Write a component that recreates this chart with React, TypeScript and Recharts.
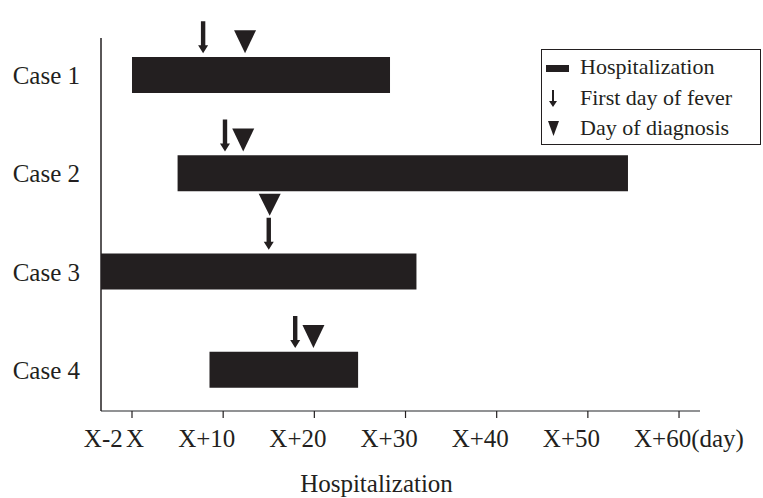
import { ComposedChart, Bar, Line, XAxis, YAxis, Legend } from 'recharts';

const cases = ['Case 1', 'Case 2', 'Case 3', 'Case 4'];
const admitDay = [0, 5, -3.4, 8.5];
const dischargeDay = [28.3, 54.4, 31.2, 24.8];
const feverDay = [7.8, 10.2, 15.0, 17.9];
const diagnosisDay = [12.4, 12.2, 15.1, 19.9];
const dayTicks = [-2, 0, 10, 20, 30, 40, 50, 60];
const legendLabels = ['Hospitalization', 'First day of fever', 'Day of diagnosis'];

const FONT = '"Liberation Serif", "Times New Roman", serif';
const INK = '#231f20';

const data = cases.map((name, i) => ({
  name,
  stay: [admitDay[i], dischargeDay[i]],
  fever: feverDay[i],
  diagnosis: diagnosisDay[i],
}));

// half the bar height plus a small gap: markers sit just above the bar
const LIFT = 22;

function arrowPath(x: number, bottom: number) {
  const top = bottom - 32;
  return `M${x - 2.2},${top} L${x + 2.2},${top} L${x + 2.2},${bottom - 8} L${x + 5},${bottom - 8} L${x},${bottom} L${x - 5},${bottom - 8} L${x - 2.2},${bottom - 8} Z`;
}

function trianglePath(x: number, tip: number, h: number) {
  return `M${x - 11},${tip - h} L${x + 11},${tip - h} L${x},${tip} Z`;
}

const renderFever = (props: any) => {
  const { cx, cy, index } = props;
  return <path key={`fever-${index}`} d={arrowPath(cx, cy - LIFT)} fill={INK} />;
};

const renderDiagnosis = (props: any) => {
  const { cx, cy, index, payload } = props;
  // same day as the fever: the triangle goes on top of the arrow
  const stacked = Math.abs(payload.diagnosis - payload.fever) < 1;
  const tip = stacked ? cy - LIFT - 34 : cy - LIFT;
  return <path key={`diag-${index}`} d={trianglePath(cx, tip, stacked ? 22 : 23)} fill={INK} />;
};

const tickText = (v: number) => {
  if (v === 60) return 'X+60(day)';
  if (v === 0) return 'X';
  if (v < 0) return `X${v}`;
  return `X+${v}`;
};

const DayTick = (props: any) => {
  const { x, y, payload } = props;
  const v = payload.value;
  let anchor: 'start' | 'end' = 'start';
  let tx = x - 45;
  if (v < 0) {
    anchor = 'end';
    tx = x + 9;
  } else if (v === 0) {
    tx = x - 6;
  }
  return (
    <g>
      {v >= 0 && <line x1={x} x2={x} y1={y - 7} y2={y} stroke={INK} strokeWidth={1.2} />}
      <text x={tx} y={y + 29} textAnchor={anchor} fill={INK} fontSize={25} fontFamily={FONT}>
        {tickText(v)}
      </text>
    </g>
  );
};

const renderLegend = () => (
  <div
    style={{
      border: `1px solid ${INK}`,
      width: 220,
      height: 96,
      boxSizing: 'border-box',
      background: '#fff',
      paddingTop: 2,
      fontFamily: FONT,
      fontSize: 22,
      color: INK,
    }}
  >
    {legendLabels.map((label, i) => (
      <div key={label} style={{ display: 'flex', alignItems: 'center', height: 30.5 }}>
        <svg width={38} height={30} style={{ flex: 'none' }}>
          {i === 0 && <rect x={4} y={13} width={23} height={7} fill={INK} />}
          {i === 1 && <path d="M10,7 L12,7 L12,18 L15,18 L11,24 L7,18 L10,18 Z" fill={INK} />}
          {i === 2 && <path d="M6,8 L17,8 L11.5,23 Z" fill={INK} />}
        </svg>
        <span style={{ lineHeight: 1 }}>{label}</span>
      </div>
    ))}
  </div>
);

export default function App() {
  return (
    <div style={{ width: 763, height: 498, background: '#fff' }}>
      <style>{'body{margin:0;overflow:hidden;background:#fff}'}</style>
      <ComposedChart
        width={763}
        height={498}
        data={data}
        layout="vertical"
        margin={{ top: 38, right: 63, bottom: 0, left: 0 }}
      >
        <XAxis
          type="number"
          domain={[-3.4, 62.3]}
          ticks={dayTicks}
          interval={0}
          height={87}
          tickLine={false}
          tickSize={7}
          tickMargin={0}
          axisLine={{ stroke: '#6d6e71', strokeWidth: 1.5 }}
          tick={<DayTick />}
          label={{
            value: 'Hospitalization',
            position: 'insideBottom',
            offset: 6,
            dx: -24,
            fill: INK,
            fontSize: 25,
            fontFamily: FONT,
          }}
        />
        <YAxis
          type="category"
          dataKey="name"
          width={101}
          padding={{ top: -12, bottom: -8 }}
          axisLine={{ stroke: INK, strokeWidth: 1.5 }}
          tickLine={false}
          tickSize={0}
          tickMargin={21}
          tick={{ fill: INK, fontSize: 25, fontFamily: FONT }}
        />
        <Legend
          layout="horizontal"
          verticalAlign="middle"
          align="center"
          content={renderLegend}
          wrapperStyle={{ left: 541, top: 49, width: 220, height: 96 }}
        />
        <Bar dataKey="stay" fill={INK} barSize={36} isAnimationActive={false} legendType="none" />
        <Line
          dataKey="fever"
          stroke="none"
          dot={renderFever}
          activeDot={false}
          isAnimationActive={false}
          legendType="none"
        />
        <Line
          dataKey="diagnosis"
          stroke="none"
          dot={renderDiagnosis}
          activeDot={false}
          isAnimationActive={false}
          legendType="none"
        />
      </ComposedChart>
    </div>
  );
}
